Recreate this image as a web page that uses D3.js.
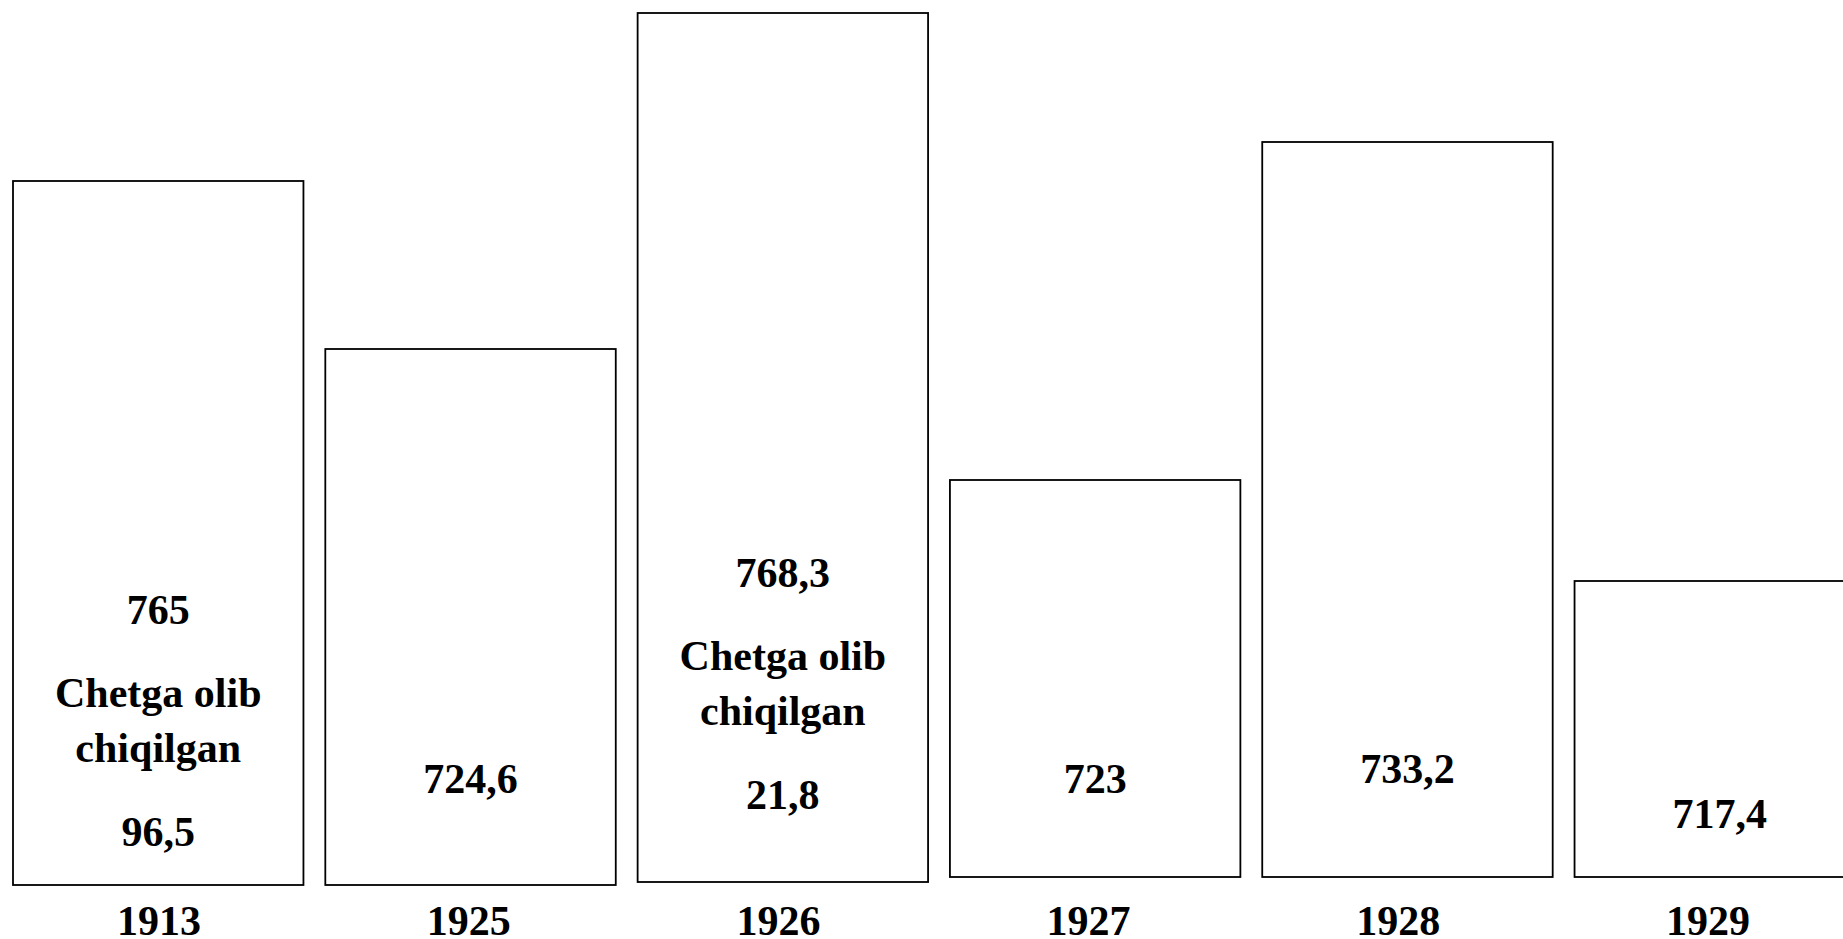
<html>
<head>
<style>
body
{
  margin:0;
  background:#fff;
}
</style>
<script type="text/javascript" src="https://cdnjs.cloudflare.com/ajax/libs/d3/7.8.5/d3.min.js"></script>
</head>
<body>
<script>
// years on the bottom
var years = ["1913", "1925", "1926", "1927", "1928", "1929"];
// main value printed in each bar
var values = [765, 724.6, 768.3, 723, 733.2, 717.4];
// "Chetga olib chiqilgan" (exported) value, only for some years
var exported = [96.5, null, 21.8, null, null, null];
// bar tops and bottoms as they are drawn in the picture (not proportional to values)
var drawnTop = [700, 532, 868, 401, 739, 300];
var drawnBase = [-4, -4, -1, 4, 4, 4];
var exportText = ["Chetga olib", "chiqilgan"];

var w = 1843;
var h = 939;

// where the value label sits in each bar, same units as drawnTop
var valueLevel = [257, 88, 294, 88, 98, 53];

var svg = d3.select("body")
  .append("svg")
  .attr("width", w)
  .attr("height", h);

var x = d3.scaleBand()
  .domain(years)
  .range([13, 1865])
  .paddingInner(0.07)
  .paddingOuter(0);

var xYear = d3.scalePoint()
  .domain(years)
  .range([159, 1708]);

var y = d3.scaleLinear()
  .domain([0, 880])
  .range([881, 1]);

function fmt(v)
{
  return String(v).replace(".", ",");
}

var rows = years.map(function(yr, i){
  return {year: yr, value: values[i], exp: exported[i], top: drawnTop[i], base: drawnBase[i], lvl: valueLevel[i]};
});

svg.selectAll("rect.bar")
  .data(rows)
  .enter()
  .append("rect")
  .attr("class", "bar")
  .attr("x", function(d){ return x(d.year); })
  .attr("y", function(d){ return y(d.top); })
  .attr("width", x.bandwidth())
  .attr("height", function(d){ return y(d.base) - y(d.top); })
  .style("fill", "#fff")
  .style("stroke", "#000")
  .style("stroke-width", 1.8);

var font = "'Liberation Serif', 'Times New Roman', serif";

function label(sel)
{
  sel.attr("text-anchor", "middle")
    .style("font-family", font)
    .style("font-weight", "bold")
    .style("font-size", "42px")
    .style("fill", "#000");
}

var g = svg.selectAll("g.lbl")
  .data(rows)
  .enter()
  .append("g")
  .attr("class", "lbl")
  .attr("transform", function(d){ return "translate(" + (x(d.year) + x.bandwidth() / 2) + ",0)"; });

g.append("text")
  .attr("y", function(d){ return y(d.lvl); })
  .text(function(d){ return fmt(d.value); })
  .call(label);

var ex = g.filter(function(d){ return d.exp != null; });

ex.append("text")
  .attr("y", function(d){ return y(d.lvl) + 83; })
  .text(exportText[0])
  .call(label);

ex.append("text")
  .attr("y", function(d){ return y(d.lvl) + 138; })
  .text(exportText[1])
  .call(label);

ex.append("text")
  .attr("y", function(d){ return y(d.lvl) + 222; })
  .text(function(d){ return fmt(d.exp); })
  .call(label);

svg.selectAll("text.year")
  .data(years)
  .enter()
  .append("text")
  .attr("class", "year")
  .attr("x", function(d){ return xYear(d); })
  .attr("y", 935)
  .text(function(d){ return d; })
  .call(label);
</script>
</body>
</html>
